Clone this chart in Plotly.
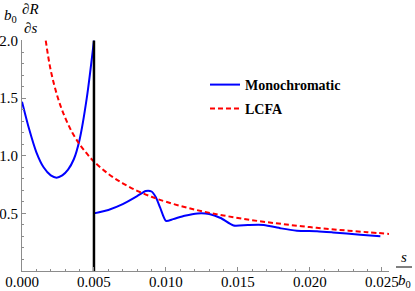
import plotly.graph_objects as go

# ---- data ----
mono_s1 = [0.0000, 0.0005, 0.0010, 0.0015, 0.0020, 0.0024, 0.0028, 0.0032, 0.0036, 0.0040, 0.0045, 0.0050]
mono_v1 = [1.47, 1.23, 1.03, 0.90, 0.83, 0.81, 0.83, 0.88, 0.97, 1.14, 1.50, 2.00]

mono_s2 = [0.0050, 0.0060, 0.0070, 0.0080, 0.0086, 0.0090, 0.0093, 0.0096, 0.0100, 0.0105, 0.0113,
           0.0122, 0.0130, 0.0138, 0.0147, 0.0157, 0.0168, 0.0180, 0.0191, 0.0205, 0.0216, 0.0235, 0.0249]
mono_v2 = [0.50, 0.53, 0.58, 0.65, 0.695, 0.69, 0.64, 0.55, 0.435, 0.45, 0.48,
           0.50, 0.495, 0.46, 0.395, 0.40, 0.40, 0.37, 0.35, 0.345, 0.335, 0.315, 0.302]

lcfa_s = [0.00165, 0.0020, 0.0025, 0.0030, 0.0035, 0.0040, 0.0045, 0.0050, 0.0060, 0.0070, 0.0080,
          0.0090, 0.0100, 0.0120, 0.0140, 0.0160, 0.0180, 0.0200, 0.0220, 0.0240, 0.0255]
lcfa_v = [2.00, 1.74, 1.50, 1.33, 1.20, 1.10, 1.02, 0.95, 0.843, 0.761, 0.696,
          0.644, 0.601, 0.533, 0.482, 0.441, 0.409, 0.381, 0.357, 0.337, 0.322]

divider_s = [0.005, 0.005]
divider_v = [0.0, 2.0]

x_ticks = [0.0, 0.005, 0.010, 0.015, 0.020, 0.025]
x_ticklabels = ["0.000", "0.005", "0.010", "0.015", "0.020", "0.025"]
y_ticks = [0.5, 1.0, 1.5, 2.0]
y_ticklabels = ["0.5", "1.0", "1.5", "2.0"]

# ---- figure ----
W, H = 415, 291
ML, MR, MT, MB = 22, 26, 40, 20
PW, PH = W - ML - MR, H - MT - MB


def px(p):
    return (p - ML) / PW


def py(q):
    return (H - MB - q) / PH


serif = "Liberation Serif"
axcol = "#8c8c8c"

fig = go.Figure()
fig.add_trace(go.Scatter(x=mono_s1, y=mono_v1, mode="lines", name="<b>Monochromatic</b>",
                         line=dict(color="#0000ff", width=2, shape="spline", smoothing=0.8),
                         legend="legend", legendgroup="m"))
fig.add_trace(go.Scatter(x=mono_s2, y=mono_v2, mode="lines", showlegend=False,
                         line=dict(color="#0000ff", width=2, shape="spline", smoothing=0.6),
                         legendgroup="m"))
fig.add_trace(go.Scatter(x=lcfa_s, y=lcfa_v, mode="lines", name="<b>LCFA</b>",
                         line=dict(color="#ff0000", width=2, dash="5px,3px", shape="spline"),
                         legend="legend2"))
fig.add_trace(go.Scatter(x=divider_s, y=divider_v, mode="lines", showlegend=False,
                         line=dict(color="black", width=2.5)))

tickfont = dict(family=serif, size=15, color="black")
legfont = dict(family=serif, size=14, color="black")

fig.update_layout(
    width=W, height=H,
    font=dict(family=serif, color="black"),
    margin=dict(l=ML, r=MR, t=MT, b=MB, autoexpand=False),
    paper_bgcolor="white", plot_bgcolor="white",
    xaxis=dict(range=[0, 0.0255], showgrid=False, zeroline=False, showline=True, automargin=False,
               linecolor=axcol, linewidth=1, ticks="inside", ticklen=4, tickcolor=axcol,
               ticklabelstandoff=-3,
               tickmode="array", tickvals=x_ticks, ticktext=x_ticklabels, tickfont=tickfont,
               minor=dict(tickmode="linear", tick0=0, dtick=0.001, ticks="inside",
                          ticklen=2, tickcolor=axcol, showgrid=False)),
    yaxis=dict(range=[0, 2.005], showgrid=False, zeroline=False, showline=True, automargin=False,
               linecolor=axcol, linewidth=1, ticks="inside", ticklen=4, tickcolor=axcol,
               tickmode="array", tickvals=y_ticks, ticktext=y_ticklabels, tickfont=tickfont,
               minor=dict(tickmode="linear", tick0=0, dtick=0.1, ticks="inside",
                          ticklen=2, tickcolor=axcol, showgrid=False)),
    legend=dict(x=px(205), y=py(85), xanchor="left", yanchor="middle",
                font=legfont, bgcolor="rgba(0,0,0,0)", borderwidth=0),
    legend2=dict(x=px(205), y=py(109), xanchor="left", yanchor="middle",
                 font=legfont, bgcolor="rgba(0,0,0,0)", borderwidth=0),
    showlegend=True,
)

labfont = dict(family=serif, size=15, color="black")
ann = [
    (10, 16, "<i>b</i><sub>0</sub>"),
    (30, 9, "∂<i>R</i>"),
    (30, 28, "∂<i>s</i>"),
    (404, 257, "<i>s</i>"),
    (404, 281, "<i>b</i><sub>0</sub>"),
]
for xx, yy, t in ann:
    fig.add_annotation(x=px(xx), y=py(yy), xref="paper", yref="paper", text=t,
                       showarrow=False, font=labfont, xanchor="center", yanchor="middle")

fig.add_shape(type="line", xref="paper", yref="paper", x0=px(396), x1=px(412), y0=py(267), y1=py(267),
              line=dict(color="black", width=1))

fig.write_html("out.html", config={"displayModeBar": False},
               post_script="document.body.style.margin='0';document.body.style.overflow='hidden';")
